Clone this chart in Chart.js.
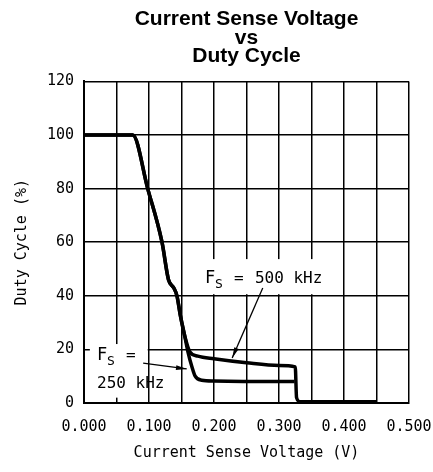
<!DOCTYPE html>
<html>
<head>
<meta charset="utf-8">
<script src="https://cdn.jsdelivr.net/npm/chart.js@4.4.0/dist/chart.umd.min.js"></script>
<style>
  html, body { margin: 0; padding: 0; background: #fff; }
  #wrap { width: 433px; height: 472px; }
</style>
</head>
<body>
<div id="wrap"><canvas id="chart" width="433" height="472"></canvas></div>
<script>
// Current sense voltage (V) vs duty cycle (%)
const sense500 = [0, 0.075, 0.098, 0.12, 0.13, 0.138, 0.143, 0.148, 0.155, 0.163, 0.175, 0.2, 0.25, 0.3, 0.325, 0.327, 0.332, 0.45];
const duty500  = [100, 100, 80, 60, 46, 43, 40, 33, 25, 19, 17.5, 16.5, 15, 14, 13.5, 2, 0.5, 0.5];
const sense250 = [0, 0.075, 0.098, 0.12, 0.13, 0.138, 0.143, 0.148, 0.155, 0.16, 0.166, 0.171, 0.181, 0.2, 0.3, 0.324];
const duty250  = [100, 100, 80, 60, 46, 43, 40, 33, 25, 19, 13.5, 10, 8.5, 8.2, 8, 8];

const titleLines = ['Current Sense Voltage', 'vs', 'Duty Cycle'];
const FONT = '"DejaVu Sans Mono", monospace';

function toPoints(xs, ys) {
    return xs.map((x, i) => ({ x: x, y: ys[i] }));
}

// white label boxes, labels and arrows drawn in data space
const notes = {
    id: 'notes',
    beforeDatasetsDraw(chart) {
        const { ctx, scales: { x, y } } = chart;
        ctx.save();
        ctx.fillStyle = '#fff';
        // box behind "Fs = 500 kHz"
        let x0 = x.getPixelForValue(0.184), x1 = x.getPixelForValue(0.375);
        let y0 = y.getPixelForValue(53.7), y1 = y.getPixelForValue(40.6);
        ctx.fillRect(x0, y0, x1 - x0, y1 - y0);
        // box behind "Fs = 250 kHz"
        x0 = x.getPixelForValue(0.009); x1 = x.getPixelForValue(0.098);
        y0 = y.getPixelForValue(22); y1 = y.getPixelForValue(2);
        ctx.fillRect(x0, y0, x1 - x0, y1 - y0);
        ctx.restore();
    },
    afterDatasetsDraw(chart) {
        const { ctx, scales: { x, y } } = chart;
        ctx.save();
        ctx.fillStyle = '#000';
        ctx.strokeStyle = '#000';
        ctx.textBaseline = 'alphabetic';

        function fsLabel(px, py, rest) {
            ctx.font = '17px ' + FONT;
            ctx.fillText('F', px, py);
            ctx.font = '13px ' + FONT;
            ctx.fillText('S', px + 10, py + 5);
            ctx.font = '16px ' + FONT;
            ctx.fillText('=', px + 29, py);
            if (rest) ctx.fillText(rest, px + 50, py);
        }
        fsLabel(x.getPixelForValue(0.186), y.getPixelForValue(44.7), '500 kHz');
        fsLabel(x.getPixelForValue(0.02), y.getPixelForValue(16), '');
        ctx.font = '16px ' + FONT;
        ctx.fillText('250 kHz', x.getPixelForValue(0.02), y.getPixelForValue(5.6));

        function arrow(ax, ay, bx, by) {
            const x0 = x.getPixelForValue(ax), y0 = y.getPixelForValue(ay);
            const x1 = x.getPixelForValue(bx), y1 = y.getPixelForValue(by);
            ctx.lineWidth = 1.3;
            ctx.beginPath();
            ctx.moveTo(x0, y0);
            ctx.lineTo(x1, y1);
            ctx.stroke();
            const a = Math.atan2(y1 - y0, x1 - x0);
            const len = 11, half = 0.22;
            ctx.beginPath();
            ctx.moveTo(x1, y1);
            ctx.lineTo(x1 - len * Math.cos(a - half), y1 - len * Math.sin(a - half));
            ctx.lineTo(x1 - len * Math.cos(a + half), y1 - len * Math.sin(a + half));
            ctx.closePath();
            ctx.fill();
        }
        arrow(0.275, 42.9, 0.228, 16.8);
        arrow(0.091, 14.9, 0.158, 12.7);
        ctx.restore();
    }
};

new Chart(document.getElementById('chart'), {
    type: 'line',
    data: {
        datasets: [
            {
                label: 'Fs = 500 kHz',
                data: toPoints(sense500, duty500),
                borderColor: '#000',
                borderWidth: 3.5,
                pointRadius: 0,
                cubicInterpolationMode: 'monotone',
                fill: false
            },
            {
                label: 'Fs = 250 kHz',
                data: toPoints(sense250, duty250),
                borderColor: '#000',
                borderWidth: 3.5,
                pointRadius: 0,
                cubicInterpolationMode: 'monotone',
                fill: false
            }
        ]
    },
    options: {
        responsive: false,
        animation: false,
        devicePixelRatio: 1,
        layout: { padding: { left: 0, right: 24, top: 3, bottom: 0 } },
        plugins: {
            legend: { display: false },
            tooltip: { enabled: false },
            title: {
                display: true,
                text: titleLines,
                fullSize: false,
                color: '#000',
                font: { family: '"Liberation Sans", Arial, sans-serif', size: 21, weight: 'bold', lineHeight: 0.88 },
                padding: { top: 7, bottom: 16 }
            }
        },
        scales: {
            x: {
                type: 'linear',
                min: 0,
                max: 0.5,
                afterFit: s => { s.height = 69; s.paddingLeft = 0; s.paddingRight = 0; },
                ticks: {
                    stepSize: 0.05,
                    autoSkip: false,
                    maxRotation: 0,
                    color: '#000',
                    font: { family: FONT, size: 15 },
                    padding: 15,
                    callback: (v, i) => (i % 2 === 0 ? v.toFixed(3) : '')
                },
                grid: { color: '#000', lineWidth: 1.5, drawTicks: false },
                border: { color: '#000', width: 2 },
                title: {
                    display: true,
                    text: 'Current Sense Voltage (V)',
                    color: '#000',
                    font: { family: FONT, size: 15 },
                    padding: { top: 0, bottom: 10 }
                }
            },
            y: {
                min: 0,
                max: 120,
                afterFit: s => { s.width = 84; },
                ticks: {
                    stepSize: 20,
                    color: '#000',
                    font: { family: FONT, size: 15 },
                    padding: 10
                },
                grid: { color: '#000', lineWidth: 1.5, drawTicks: false },
                border: { color: '#000', width: 2 },
                title: {
                    display: true,
                    text: 'Duty Cycle (%)',
                    color: '#000',
                    font: { family: FONT, size: 15 },
                    padding: { top: 13, bottom: 0 }
                }
            }
        }
    },
    plugins: [notes]
});
</script>
</body>
</html>
